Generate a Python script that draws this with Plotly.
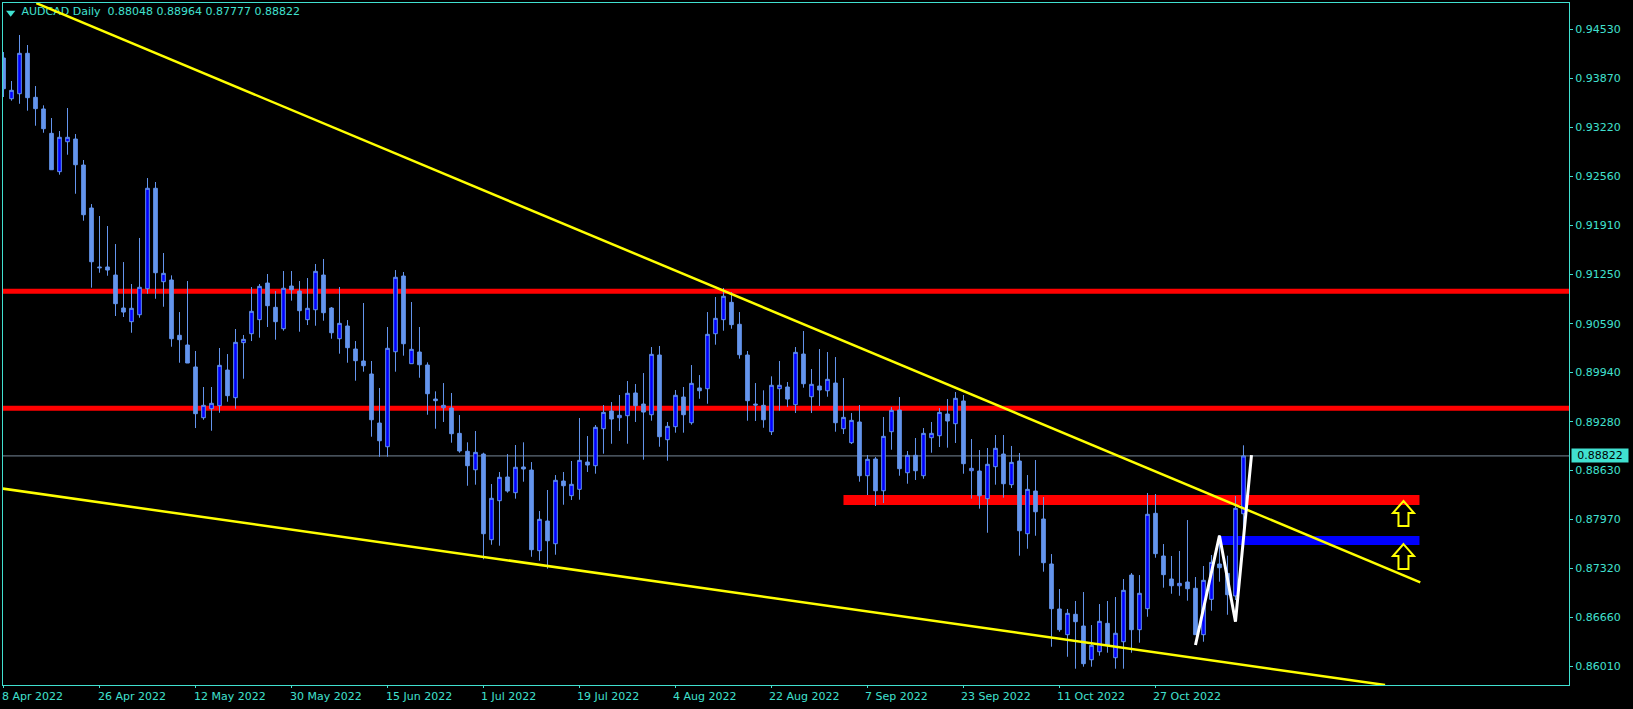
import plotly.graph_objects as go

# Prices x 100000
open_pts = [94146,93601,93668,94209,93620,93464,93138,92625,93026,93062,92714,92139,91350,91350,91242,90801,90618,90711,91059,92403,
91153,91176,90436,90306,90012,89333,89454,89494,89971,89601,90337,90457,90645,91135,90810,90524,91095,91028,90645,90778,
91242,90801,90390,90560,90252,90092,89918,89262,88945,90216,91229,90056,90212,90038,89583,89467,89463,89124,88884,88637,
88847,87701,88223,88540,88330,88674,88633,87554,87951,87647,88486,88290,88375,88740,88691,89186,89423,89333,89360,89664,
89516,89373,90172,89039,89213,89610,89266,89731,89721,90457,90645,90877,90583,90172,89516,89499,89146,89721,89744,89507,
90185,89614,89757,89694,89797,89186,88999,89276,88557,88781,88356,89146,89436,88597,88830,88557,89066,89092,89383,89253,
89557,88624,88620,88250,88678,88847,88437,88754,87781,88352,87978,87376,86774,86430,86703,86546,86095,86202,86582,86122,
86336,87228,86497,86778,88054,87483,87175,87085,87135,87051,86430,86903,87376,87251,86948,88048]
close_pts = [93735,93714,94209,93615,93468,93200,92651,93085,93085,92718,92049,91420,91340,91309,90859,90747,90797,91078,92403,91273,
91265,90390,90377,90065,89387,89499,89526,90034,89628,90342,90382,90757,91091,90832,90618,91065,91046,90765,90797,91292,
90738,90470,90596,90270,90096,90029,89306,89025,90262,91212,90323,90248,90042,89654,89561,89499,89119,88888,88691,88870,
87781,88255,88536,88352,88670,88647,87567,87974,87687,88496,88423,88442,88763,88700,89205,89405,89316,89365,89660,89494,
89409,90181,89079,89218,89633,89373,89793,89694,90449,90663,90958,90578,90176,89561,89503,89306,89767,89767,89583,90208,
89788,89780,89704,89847,89266,89338,89298,88557,88777,88356,89084,89432,88651,88830,88624,89124,89124,89405,89289,89593,
88718,88656,88289,88710,88924,88450,88736,87821,88375,88075,87393,86778,86497,86716,86604,86042,86288,86609,86283,86449,
87024,86497,86984,88041,87514,87233,87085,87117,87045,86430,87158,87398,87326,86965,88121,88822]
high_pts = [94226,93838,94454,94320,93771,93513,93343,93169,93477,93129,92781,92192,92032,91898,91657,91416,91122,91738,92540,92487,
91537,91238,90747,91162,90226,89744,89744,90266,90185,90520,90440,91082,91122,91256,91028,91296,91296,91162,91202,91390,
91457,90814,91082,90640,90359,90868,90092,89731,90547,91309,91283,90881,90547,90074,89686,89797,89664,89369,89004,89155,
88865,88446,88607,88847,88968,89004,88740,88085,88366,88566,88607,88754,89329,89088,89235,89503,89543,89637,89824,89784,
89931,90279,90293,89276,89704,89744,90038,89904,90747,90948,91069,91015,90747,90226,89797,89700,89887,90092,89811,90279,
90493,89985,90252,90212,90145,89864,89396,89503,88834,88807,89343,89476,89610,88888,89062,89195,89276,89463,89583,89677,
89637,89048,88901,88928,89102,89102,88955,88861,88566,88767,88272,87509,87041,86774,86881,87001,86559,86840,86881,86934,
87175,87255,87228,88326,88312,87643,87483,87550,87964,87202,87349,87496,87764,87487,88286,88964]
low_pts = [93624,93575,93534,93441,93240,93146,92651,92585,92852,92330,91969,91073,91273,91233,90694,90681,90470,90671,90992,90925,
90818,90283,90069,90065,89195,89306,89159,89400,89547,89454,89855,90359,90404,90547,90377,90497,90899,90484,90573,90564,
90631,90390,90190,90069,89828,89949,89079,88811,88811,89949,90163,90056,89868,89373,89186,89276,88999,88865,88423,88437,
87439,87634,87621,88330,88250,88477,87473,87420,87313,87500,88169,88232,88236,88607,88584,88852,88985,89155,88985,89276,
88771,89293,88945,88758,89133,89133,89240,89587,89520,90310,90497,90524,90123,89293,89289,89199,89102,89427,89476,89396,
89735,89396,89490,89614,89146,89115,88981,88477,88299,88152,88192,88905,88557,88450,88500,88517,88865,88941,88932,88995,
88584,88250,88116,87794,88437,88263,88393,87487,87580,87754,87273,86269,86470,86135,85975,86002,86002,86149,86189,85975,
85975,86189,86323,86670,87460,87059,86978,86951,86885,86426,86336,86751,87139,86697,86894,87777]
bars = list(range(len(open_pts)))

date_bars = [0,12,24,36,48,60,72,84,96,108,120,132,144]
date_labels = ["8 Apr 2022","26 Apr 2022","12 May 2022","30 May 2022","15 Jun 2022","1 Jul 2022","19 Jul 2022",
               "4 Aug 2022","22 Aug 2022","7 Sep 2022","23 Sep 2022","11 Oct 2022","27 Oct 2022"]
price_ticks = [0.94530,0.93870,0.93220,0.92560,0.91910,0.91250,0.90590,0.89940,0.89280,0.88630,0.87970,0.87320,0.86660,0.86010]

resistance_levels = [0.91024, 0.89459]
last_price = 0.88822
red_zone = {"x": [105, 177], "y": [0.88165, 0.88299]}
blue_zone = {"x": [152, 177], "y": [0.87630, 0.87750]}
upper_trend_x, upper_trend_y = [4.1, 177.1], [0.94880, 0.87131]
lower_trend_x, lower_trend_y = [-0.1, 172.7], [0.88385, 0.85757]
zigzag_x, zigzag_y = [149, 152, 154, 156], [0.86292, 0.87755, 0.86604, 0.88834]
arrow_x, arrow_tips = 175, [0.88219, 0.87643]
header = "AUDCAD Daily  0.88048 0.88964 0.87777 0.88822"

TURQ = "#40E0D0"
BLUE = "#6495ED"
FONT = "DejaVu Sans"

fig = go.Figure()
fig.add_trace(go.Candlestick(
    x=bars,
    open=[v / 1e5 for v in open_pts], high=[v / 1e5 for v in high_pts],
    low=[v / 1e5 for v in low_pts], close=[v / 1e5 for v in close_pts],
    increasing=dict(line=dict(color=BLUE, width=1), fillcolor="#0000FF"),
    decreasing=dict(line=dict(color=BLUE, width=1), fillcolor=BLUE),
    whiskerwidth=0, showlegend=False,
))
fig.add_trace(go.Scatter(x=[0.9], y=[0.94752], mode="markers", showlegend=False,
                         marker=dict(symbol="triangle-down", size=8, color=TURQ)))
fig.add_trace(go.Scatter(x=[2.25], y=[0.94752], mode="text", text=[header], textposition="middle right",
                         textfont=dict(family=FONT, size=11, color=TURQ), showlegend=False))
fig.add_trace(go.Scatter(x=upper_trend_x, y=upper_trend_y, mode="lines", line=dict(color="#FFFF00", width=2.5), showlegend=False))
fig.add_trace(go.Scatter(x=lower_trend_x, y=lower_trend_y, mode="lines", line=dict(color="#FFFF00", width=2.5), showlegend=False))
fig.add_trace(go.Scatter(x=zigzag_x, y=zigzag_y, mode="lines", line=dict(color="#FFFFFF", width=3), showlegend=False))

shapes = []
for lvl in resistance_levels:
    shapes.append(dict(type="line", xref="x domain", yref="y", x0=0, x1=1, y0=lvl, y1=lvl,
                       line=dict(color="#FF0000", width=5), layer="below"))
shapes.append(dict(type="line", xref="x domain", yref="y", x0=0, x1=1, y0=last_price, y1=last_price,
                   line=dict(color="#778899", width=1), layer="below"))
for zone, col in ((red_zone, "#FF0000"), (blue_zone, "#0000FF")):
    shapes.append(dict(type="rect", xref="x", yref="y", x0=zone["x"][0], x1=zone["x"][1],
                       y0=zone["y"][0], y1=zone["y"][1], fillcolor=col, line=dict(width=0), layer="below"))
for tip in arrow_tips:
    shapes.append(dict(type="path", xref="x", yref="y", xsizemode="pixel", ysizemode="pixel",
                       xanchor=arrow_x, yanchor=tip,
                       path="M 0 0 L 10.5 -12 L 5 -12 L 5 -25 L -5 -25 L -5 -12 L -10.5 -12 Z",
                       line=dict(color="#FFFF00", width=2), fillcolor="rgba(0,0,0,0)", layer="above"))

annotations = [dict(x=b, y=0, xref="x", yref="paper", yshift=-3, text=t, showarrow=False,
                    xanchor="left", yanchor="top", xshift=-4,
                    font=dict(family=FONT, size=11, color=TURQ))
               for b, t in zip(date_bars, date_labels)]
annotations.append(dict(x=1, y=last_price, xref="paper", yref="y", xshift=2, text=f"{last_price:.5f}", showarrow=False,
                        xanchor="left", yanchor="middle", width=56, height=13, align="center",
                        bgcolor=TURQ, borderpad=0, font=dict(family=FONT, size=11, color="#000000")))

fig.update_layout(
    width=1633, height=709, autosize=False,
    margin=dict(l=3, r=64, t=3, b=24, pad=0),
    paper_bgcolor="#000000", plot_bgcolor="#000000",
    showlegend=False, boxgap=0.35, dragmode=False,
    shapes=shapes, annotations=annotations,
    xaxis=dict(range=[-0.0625, 195.69], rangeslider=dict(visible=False), showgrid=False, zeroline=False,
               showline=True, mirror=True, linecolor=TURQ, linewidth=1,
               tickmode="array", tickvals=date_bars, ticktext=[""] * len(date_bars),
               ticks="outside", ticklen=2, tickcolor=TURQ, tickwidth=1),
    yaxis=dict(range=[0.85757, 0.94882], side="right", showgrid=False, zeroline=False,
               showline=True, mirror=True, linecolor=TURQ, linewidth=1,
               tickmode="array", tickvals=price_ticks, ticktext=[f"{v:.5f}" for v in price_ticks],
               ticks="outside", ticklen=3, tickcolor=TURQ, tickwidth=1,
               tickfont=dict(family=FONT, size=11, color=TURQ)),
)
fig.write_html("out.html", config={"displayModeBar": False},
               post_script="document.body.style.margin='0';document.body.style.overflow='hidden';document.documentElement.style.background='#000';")
